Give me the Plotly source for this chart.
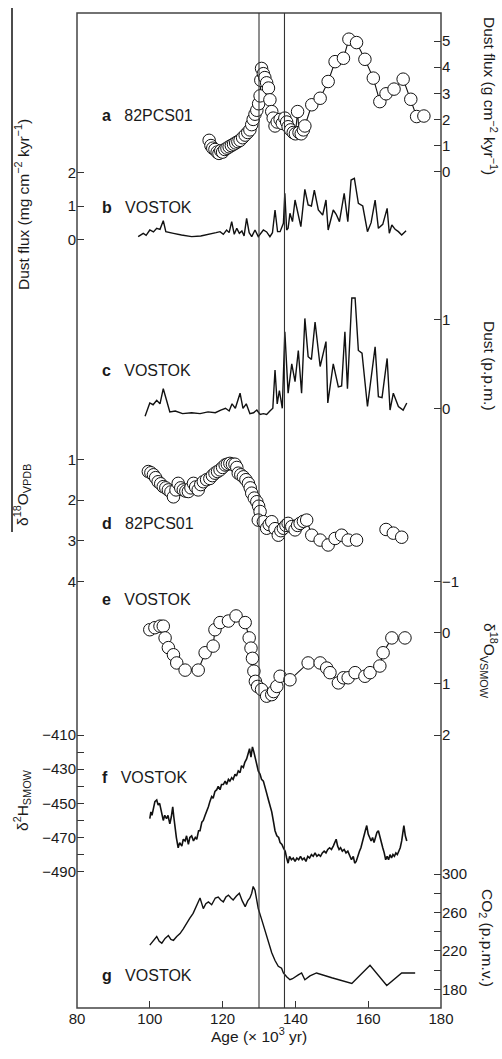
import plotly.graph_objects as go

# ---------------- data ----------------
# a: 82PCS01 dust flux (g cm-2 kyr-1)
a_age = [116.3, 116.8, 117.3, 117.9, 118.5, 119.0, 119.5, 120.0, 120.6, 121.2, 121.8, 122.4,
         123.0, 123.6, 124.2, 124.8, 125.5, 126.2, 126.9, 127.5, 128.0, 128.4, 128.9, 129.4,
         129.9, 130.3, 130.5, 130.7, 131.2, 131.6, 132.1, 132.6, 133.0, 133.5, 133.9, 134.4,
         135.0, 135.8, 136.4, 137.1, 137.6, 138.0, 138.7, 139.4, 140.0, 140.6, 141.0, 141.6,
         142.2, 142.6, 144.5, 146.8, 149.0, 150.9, 153.2, 154.7, 156.8, 159.1, 161.4, 163.2,
         164.9, 167.1, 169.6, 171.7, 173.3, 175.3]
a_val = [1.2, 1.0, 0.9, 0.85, 0.75, 0.7, 0.8, 0.75, 0.85, 0.9, 0.95, 1.0,
         1.05, 1.1, 1.15, 1.2, 1.3, 1.4, 1.5, 1.6, 1.8, 2.0, 2.2, 2.35,
         2.6, 2.9, 3.5, 3.95, 3.75, 3.6, 3.4, 3.2, 2.75, 2.3, 2.05, 1.75,
         1.9, 2.0, 1.85, 2.05, 1.9, 1.72, 1.6, 1.5, 1.45, 2.3, 1.5, 1.45,
         1.6, 1.75, 2.56, 2.81, 3.45, 4.21, 4.34, 5.07, 4.94, 4.3, 3.58, 2.68,
         2.98, 3.16, 3.54, 2.77, 2.11, 2.13]

# b: VOSTOK dust flux (mg cm-2 kyr-1)
b_age = [96.8, 98.2, 99.0, 100.0, 101.0, 101.9, 102.8, 103.7, 104.4, 105.3, 106.5, 108.7,
         111.5, 114.0, 117.0, 118.2, 119.3, 120.2, 121.1, 121.8, 122.5, 123.2, 123.9, 124.6,
         125.3, 125.9, 126.6, 127.3, 128.0, 128.9, 129.8, 130.5, 131.2, 132.1, 133.0, 133.7,
         134.4, 135.1, 135.8, 136.7, 137.1, 137.6, 138.0, 138.5, 139.2, 139.9, 140.6, 141.5,
         142.6, 143.5, 144.4, 145.2, 146.3, 147.5, 148.4, 149.0, 150.4, 151.2, 152.1, 153.4,
         154.4, 155.3, 156.2, 157.3, 158.5, 159.8, 160.8, 161.9, 162.8, 164.0, 165.2, 165.8,
         166.5, 167.4, 168.3, 169.2, 170.4]
b_val = [0.08, 0.18, 0.12, 0.28, 0.22, 0.33, 0.3, 0.56, 0.23, 0.2, 0.18, 0.13,
         0.08, 0.1, 0.16, 0.2, 0.23, 0.15, 0.28, 0.2, 0.53, 0.15, 0.33, 0.18,
         0.25, 0.1, 0.63, 0.2, 0.08, 0.28, 0.08, 0.2, 0.28, 0.22, 0.08, 0.2,
         0.88, 0.23, 0.23, 0.48, 1.38, 0.28, 0.33, 0.78, 0.53, 1.18, 0.78, 0.38,
         1.5, 1.03, 1.0, 1.48, 0.88, 0.73, 1.18, 0.28, 0.88, 0.75, 0.53, 1.38,
         0.53, 1.78, 1.83, 1.08, 1.0, 0.23, 0.5, 1.18, 0.33, 0.45, 0.93, 0.18,
         0.43, 0.3, 0.23, 0.13, 0.26]

# c: VOSTOK dust (p.p.m.)
c_age = [98.7, 100.0, 100.9, 101.9, 102.8, 103.7, 104.6, 105.5, 107.0, 109.0, 111.5, 113.8,
         116.0, 118.0, 119.5, 120.8, 121.8, 122.6, 123.5, 124.2, 124.8, 125.6, 126.5, 127.5,
         128.5, 129.4, 130.3, 131.2, 132.1, 133.0, 133.8, 134.4, 135.0, 135.6, 136.4, 137.1,
         138.0, 139.0, 139.9, 140.8, 141.7, 142.6, 143.5, 144.4, 145.4, 146.8, 147.6, 148.4,
         148.9, 150.4, 151.8, 152.7, 153.6, 154.3, 155.5, 156.4, 157.3, 158.3, 159.8, 161.9,
         162.8, 163.8, 165.2, 166.0, 166.9, 168.3, 169.6, 170.6]
c_val = [-0.09, 0.06, 0.04, 0.09, 0.05, 0.22, 0.09, -0.04, -0.03, -0.06, -0.05, -0.06,
         -0.04, -0.05, -0.02, 0.0, -0.03, 0.05, 0.0, 0.1, 0.17, 0.0, 0.05, -0.06,
         -0.05, -0.02, -0.07, -0.06, -0.07, -0.03, 0.0, 0.43, 0.05, 0.2, 0.0, 0.86,
         0.17, 0.5, 0.3, 0.65, 0.17, 1.01, 0.58, 0.55, 0.97, 0.47, 0.6, 0.75,
         0.06, 0.5, 0.24, 0.25, 0.86, 0.22, 1.24, 1.24, 0.65, 0.62, 0.02, 0.69,
         0.13, 0.12, 0.56, -0.02, 0.17, 0.02, -0.02, 0.06]

# d: 82PCS01 d18O (VPDB)
d_age = [99.6, 100.3, 101.0, 101.6, 102.3, 103.0, 103.7, 104.4, 105.1, 105.8, 106.5, 107.2,
         107.8, 108.5, 109.2, 109.9, 110.6, 111.3, 112.0, 112.6, 113.3, 114.0, 114.7, 115.6,
         116.5, 117.2, 117.9, 118.6, 119.3, 120.0, 120.7, 121.3, 122.0, 122.7, 123.4, 123.9,
         124.3, 125.0, 125.7, 126.4, 127.1, 127.6, 128.0, 128.7, 129.4, 129.9, 130.3, 129.8,
         131.2, 132.1, 132.8, 133.5, 134.4, 135.3, 136.0, 136.7, 137.4, 138.0, 139.0, 139.9,
         140.6, 141.3, 142.2, 143.1, 144.5, 146.8, 149.0, 150.9, 152.7, 154.5, 156.8, None,
         164.9, 166.9, 169.2]
d_val = [1.30, 1.33, 1.38, 1.45, 1.55, 1.6, 1.67, 1.7, 1.75, 1.8, 1.92, 1.75,
         1.59, 1.7, 1.75, 1.78, 1.79, 1.7, 1.59, 1.68, 1.75, 1.62, 1.55, 1.5,
         1.47, 1.4, 1.34, 1.3, 1.26, 1.2, 1.14, 1.12, 1.10, 1.12, 1.12, 1.2,
         1.34, 1.38, 1.43, 1.5, 1.59, 1.7, 1.83, 1.95, 2.04, 2.15, 2.28, 2.49,
         2.53, 2.69, 2.6, 2.53, 2.7, 2.86, 2.75, 2.69, 2.62, 2.57, 2.65, 2.73,
         2.62, 2.57, 2.52, 2.49, 2.86, 2.98, 3.1, 2.94, 2.86, 2.98, 2.98, None,
         2.72, 2.81, 2.91]

# e: VOSTOK d18O (VSMOW)
e_age = [100.0, 101.4, 102.8, 103.7, 104.2, 105.1, 106.5, 107.4, 109.7, 113.3, 115.2, 117.4,
         117.9, 119.3, 121.6, 123.7, 126.2, 127.3, 127.8, 128.2, 128.6, 129.0, 129.6, 130.7,
         132.1, 133.5, 134.0, 134.9, 135.8, 138.5, 143.5, 146.8, 148.6, 149.5, 151.8, 153.2,
         154.5, 156.4, 159.1, 160.5, 163.2, 164.1, 166.5, 170.1]
e_val = [-0.06, -0.1, -0.13, -0.13, 0.1, 0.29, 0.43, 0.59, 0.73, 0.73, 0.39, 0.26,
         -0.06, -0.2, -0.23, -0.33, -0.2, 0.1, 0.3, 0.5, 0.75, 0.95, 1.05, 1.11,
         1.24, 1.21, 1.15, 1.05, 0.85, 0.92, 0.59, 0.59, 0.69, 0.78, 0.98, 0.88,
         0.88, 0.78, 0.85, 0.78, 0.65, 0.39, 0.1, 0.1]

# f: VOSTOK d2H (SMOW)
f_age = [100.0, 100.3, 100.6, 101.0, 101.4, 101.9, 102.3, 102.7, 103.2, 103.7, 104.1, 104.6,
         105.0, 105.5, 105.9, 106.3, 106.6, 106.9, 107.3, 107.8, 108.2, 108.8, 109.2, 109.7,
         110.1, 110.6, 111.0, 111.5, 112.0, 112.5, 112.9, 113.4, 113.8, 114.3, 114.7, 115.2,
         115.6, 116.1, 116.5, 117.0, 117.4, 117.9, 118.4, 118.8, 119.3, 119.7, 120.2, 120.7,
         121.1, 121.6, 122.0, 122.5, 122.9, 123.4, 123.8, 124.3, 124.8, 125.2, 125.7, 126.1,
         126.6, 127.0, 127.4, 127.8, 128.2, 128.6, 129.0, 129.4, 129.8, 130.3, 130.7, 131.2,
         131.6, 132.1, 132.6, 133.0, 133.5, 134.0, 134.4, 134.9, 135.4, 135.8, 136.3, 136.7,
         137.2, 137.6, 138.0, 138.4, 138.9, 139.4, 139.9, 140.4, 140.9, 141.4, 141.9, 142.4,
         142.9, 143.4, 143.9, 144.4, 144.9, 145.4, 145.9, 146.4, 146.9, 147.4, 147.9, 148.4,
         148.9, 149.4, 149.9, 150.4, 150.8, 151.2, 151.6, 152.0, 152.4, 152.9, 153.4, 153.9,
         154.4, 154.9, 155.4, 155.9, 156.3, 156.7, 157.1, 157.6, 158.0, 158.4, 158.8, 159.2,
         159.6, 160.0, 160.4, 160.8, 161.2, 161.6, 162.0, 162.4, 162.8, 163.2, 163.6, 164.0,
         164.4, 164.8, 165.2, 165.6, 166.0, 166.4, 166.8, 167.2, 167.6, 168.0, 168.4, 168.8,
         169.2, 169.6, 169.8, 170.2, 170.6]
f_val = [-459, -455, -457, -452, -449, -448, -451, -450, -455, -460, -457, -459,
         -457, -462, -458, -452, -458, -465, -470, -476, -473, -475, -471, -472,
         -469, -474, -470, -469, -472, -470, -471, -466, -466, -461, -460, -457,
         -455, -452, -449, -446, -447, -443, -442, -440, -442, -439, -439, -437,
         -439, -436, -437, -435, -436, -433, -434, -431, -432, -428, -429, -426,
         -424, -421, -418, -423, -417, -420, -424, -427, -431, -433, -436, -437,
         -441, -444, -448, -451, -455, -461, -466, -469, -470, -473, -474, -476,
         -478, -482, -485, -481, -483, -482, -484, -482, -483, -481, -483, -482,
         -484, -481, -482, -480, -481, -479, -481, -480, -481, -479, -478, -479,
         -477, -476, -477, -475, -473, -471, -475, -477, -476, -478, -477, -479,
         -478, -481, -483, -481, -485, -484, -481, -478, -476, -472, -468, -466,
         -463, -468, -470, -472, -470, -473, -470, -467, -466, -470, -473, -476,
         -479, -483, -481, -483, -480, -482, -480, -481, -479, -480, -478, -476,
         -472, -467, -463, -469, -472]

# g: VOSTOK CO2 (p.p.m.v.)
g_age = [100.0, 101.0, 101.9, 102.6, 103.3, 104.2, 105.1, 105.8, 106.5, 107.4, 108.3, 109.2,
         110.1, 111.0, 111.9, 112.8, 113.8, 114.7, 115.4, 116.1, 117.0, 118.0, 118.8, 119.5,
         120.2, 120.9, 121.6, 122.3, 122.9, 123.8, 124.6, 125.4, 126.2, 126.9, 127.5, 128.0,
         128.4, 128.9, 129.4, 129.8, 130.7, 131.6, 132.5, 133.5, 134.4, 135.3, 136.2, 136.7,
         137.6, 138.5, 139.2, 139.9, 140.8, 141.7, 142.6, 144.0, 145.8, 150.0, 155.5, 160.5,
         165.1, 169.2, 172.9]
g_val = [226, 231, 235, 230, 228, 233, 236, 232, 231, 235, 238, 243,
         249, 254, 259, 266, 275, 264, 269, 271, 268, 275, 276, 273,
         271, 276, 278, 275, 273, 277, 280, 272, 266, 272, 275, 280,
         287, 283, 273, 264, 253, 242, 230, 218, 210, 204, 202, 197,
         193, 190, 191, 193, 195, 197, 190, 194, 197, 192, 186, 205,
         184, 197, 197]

x_ticks = [80, 100, 120, 140, 160, 180]
event_lines = [130, 137]

# ---------------- layout helpers ----------------
W, H = 502, 1059
L, R, T, B = 77, 441, 13, 1008


def yp(py):
    return (B - py) / (B - T)


def xp(px):
    return (px - L) / (R - L)


def rng(v1, p1, v2, p2):
    s = (v2 - v1) / (p2 - p1)
    return [v1 + (B - p1) * s, v1 + (T - p1) * s]


INK = "#1a1a1a"
FONT = "Liberation Sans, Arial, sans-serif"
tickfont = dict(family=FONT, size=15, color=INK)

fig = go.Figure()

line_style = dict(color="#111", width=1.4)
marker_style = dict(symbol="circle", size=12.5, color="white", line=dict(color="#111", width=1))

fig.add_trace(go.Scatter(x=a_age, y=a_val, yaxis="y2", mode="lines+markers",
                         line=dict(color="#111", width=1.1), marker=marker_style))
fig.add_trace(go.Scatter(x=b_age, y=b_val, yaxis="y3", mode="lines", line=line_style))
fig.add_trace(go.Scatter(x=c_age, y=c_val, yaxis="y4", mode="lines", line=line_style))
fig.add_trace(go.Scatter(x=d_age, y=d_val, yaxis="y6", mode="lines+markers", connectgaps=False,
                         line=dict(color="#111", width=1.1), marker=marker_style))
fig.add_trace(go.Scatter(x=e_age, y=e_val, yaxis="y7", mode="lines+markers",
                         line=dict(color="#111", width=1.1), marker=marker_style))
fig.add_trace(go.Scatter(x=f_age, y=f_val, yaxis="y8", mode="lines", line=dict(color="#111", width=1.6)))
fig.add_trace(go.Scatter(x=g_age, y=g_val, yaxis="y9", mode="lines", line=line_style))

sub_axis = dict(overlaying="y", anchor="x", showgrid=False, zeroline=False, showline=False,
                ticks="inside", ticklen=7, tickwidth=1.2, tickcolor="#333",
                tickfont=tickfont)


def ax(side, r, vals, minor_vals=None):
    d = dict(sub_axis)
    d.update(side=side, range=r, tickmode="array", tickvals=vals,
             ticktext=[str(v).replace("-", "\u2212") for v in vals])
    if minor_vals:
        d["minor"] = dict(tickmode="array", tickvals=minor_vals, ticks="inside", ticklen=7,
                          tickwidth=1.2, tickcolor="#333", showgrid=False)
    return d


fig.update_layout(
    width=W, height=H,
    margin=dict(l=L, r=W - R, t=T, b=H - B),
    paper_bgcolor="white", plot_bgcolor="rgba(0,0,0,0)",
    showlegend=False,
    xaxis=dict(range=[80, 180], tickmode="array", tickvals=x_ticks, ticks="inside", ticklen=7,
               tickwidth=1.2, tickcolor="#333", tickfont=tickfont, showgrid=False, zeroline=False,
               showline=False),
    yaxis=dict(range=[0, 1], showticklabels=False, ticks="", showgrid=False, zeroline=False,
               showline=False),
    yaxis2=ax("right", rng(5, 41, 0, 171.7), [0, 1, 2, 3, 4, 5]),
    yaxis3=ax("left", rng(2, 172.7, 0, 239.3), [0, 1, 2]),
    yaxis4=ax("right", rng(1, 319.3, 0, 408.3), [0, 1]),
    yaxis5=ax("left", rng(1, 329.3, 0, 418.3), [0]),
    yaxis6=ax("left", rng(1, 459.3, 4, 581.7), [1, 2, 3, 4]),
    yaxis7=ax("right", rng(-1, 581.7, 2, 735), [-1, 0, 1, 2]),
    yaxis8=ax("left", rng(-410, 735, -490, 871.7),
              [-410, -430, -450, -470, -490], [-420, -440, -460, -480]),
    yaxis9=ax("right", rng(300, 874, 180, 989.3),
              [180, 220, 260, 300], [200, 240, 280]),
)

# frame
fig.add_shape(type="rect", xref="paper", yref="paper", x0=0, x1=1, y0=0, y1=1,
              line=dict(color="#444", width=1.5))

# event lines
for xv in event_lines:
    fig.add_shape(type="line", xref="x", yref="paper", x0=xv, x1=xv, y0=0, y1=1,
                  line=dict(color="#333", width=1.1))

# scan border line at the far left
fig.add_shape(type="line", xref="paper", yref="paper", x0=xp(12), x1=xp(12), y0=yp(532), y1=yp(8),
              line=dict(color="#111", width=1.5))

# panel labels
panels = [("a", "82PCS01", 115), ("b", "VOSTOK", 207), ("c", "VOSTOK", 370),
          ("d", "82PCS01", 523), ("e", "VOSTOK", 599), ("f", "VOSTOK", 777), ("g", "VOSTOK", 975)]
for letter, name, py in panels:
    fig.add_annotation(x=xp(100), y=yp(py), xref="paper", yref="paper", xanchor="left",
                       yanchor="middle", showarrow=False,
                       text=f"<b>{letter}</b>\u00a0\u00a0\u00a0{name}",
                       font=dict(family=FONT, size=16, color=INK))

# axis titles
titles = [
    ("Dust flux (mg cm<sup>\u22122</sup> kyr<sup>\u22121</sup>)", 22, 205, -90),
    ("\u03b4<sup>18</sup>O<sub>VPDB</sub>", 22, 495, -90),
    ("\u03b4<sup>2</sup>H<sub>SMOW</sub>", 22, 800, -90),
    ("Dust flux (g cm<sup>\u22122</sup> kyr<sup>\u22121</sup>)", 490, 96, 90),
    ("Dust (p.p.m.)", 490, 366, 90),
    ("\u03b4<sup>18</sup>O<sub>VSMOW</sub>", 489, 661, 90),
    ("CO<sub>2</sub> (p.p.m.v.)", 487, 938, 90),
]
for text, px_, py_, ang in titles:
    fig.add_annotation(x=xp(px_), y=yp(py_), xref="paper", yref="paper", xanchor="center",
                       yanchor="middle", showarrow=False, textangle=ang, text=text,
                       font=dict(family=FONT, size=15.5, color=INK))

fig.add_annotation(x=xp(259), y=yp(1047), xref="paper", yref="paper", showarrow=False,
                   text="Age (\u00d7 10<sup>3</sup> yr)", font=dict(family=FONT, size=15.5, color=INK))

fig.write_html("out.html", config={"displayModeBar": False},
               post_script="document.body.style.margin='0';document.body.style.overflow='hidden';")
